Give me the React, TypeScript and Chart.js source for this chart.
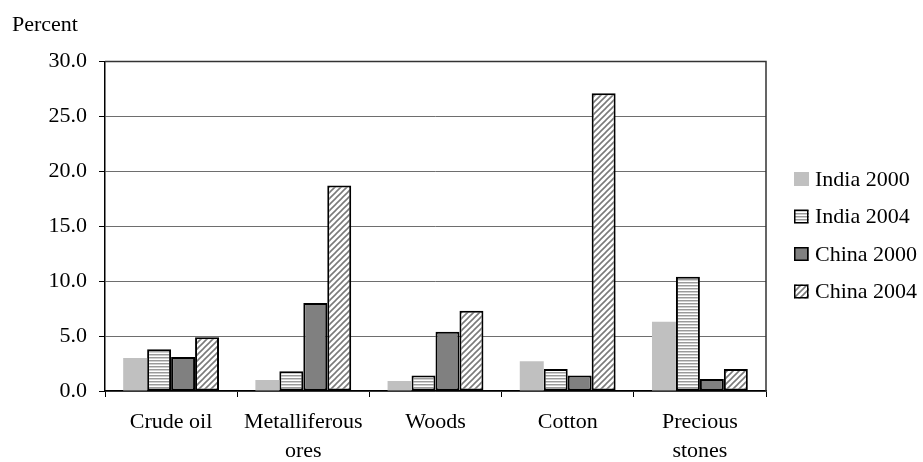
import React, { useEffect, useRef } from 'react';
import { Chart, registerables } from 'chart.js';

Chart.register(...registerables);

const categories: (string | string[])[] = ['Crude oil', ['Metalliferous', 'ores'], 'Woods', 'Cotton', ['Precious', 'stones']];
const seriesNames = ['India 2000', 'India 2004', 'China 2000', 'China 2004'];
const india2000 = [3.0, 1.0, 0.9, 2.7, 6.3];
const india2004 = [3.8, 1.8, 1.4, 2.0, 10.4];
const china2000 = [3.1, 8.0, 5.4, 1.4, 1.1];
const china2004 = [4.9, 18.7, 7.3, 27.1, 2.0];
const yMin = 0;
const yMax = 30;
const yStep = 5;
const yTitle = 'Percent';

const FONT = "'Liberation Serif', 'Times New Roman', serif";

function makeStripes(): CanvasPattern | string {
  const c = document.createElement('canvas');
  c.width = 4;
  c.height = 3;
  const x = c.getContext('2d');
  if (!x) return '#d0d0d0';
  x.fillStyle = '#ffffff';
  x.fillRect(0, 0, 4, 3);
  x.fillStyle = '#9a9a9a';
  x.fillRect(0, 0, 4, 1);
  x.fillStyle = '#d0d0d0';
  x.fillRect(0, 1, 4, 1);
  return x.createPattern(c, 'repeat') || '#d0d0d0';
}

function makeHatch(): CanvasPattern | string {
  const c = document.createElement('canvas');
  c.width = 6;
  c.height = 6;
  const x = c.getContext('2d');
  if (!x) return '#d0d0d0';
  x.fillStyle = '#ffffff';
  x.fillRect(0, 0, 6, 6);
  x.strokeStyle = '#7a7a7a';
  x.lineWidth = 1.6;
  x.beginPath();
  x.moveTo(0, 6);
  x.lineTo(6, 0);
  x.moveTo(-1, 1);
  x.lineTo(1, -1);
  x.moveTo(5, 7);
  x.lineTo(7, 5);
  x.stroke();
  return x.createPattern(c, 'repeat') || '#d0d0d0';
}

export default function App() {
  const ref = useRef<HTMLCanvasElement | null>(null);

  useEffect(() => {
    if (!ref.current) return;
    const stripes = makeStripes();
    const hatch = makeHatch();
    const fills: any[] = ['#c0c0c0', stripes, '#808080', hatch];
    const borders = [0, 2, 2, 2];
    const values = [india2000, india2004, china2000, china2004];

    const framePlugin = {
      id: 'frame',
      beforeDatasetsDraw(chart: any) {
        const { ctx, chartArea } = chart;
        ctx.save();
        ctx.strokeStyle = '#333333';
        ctx.lineWidth = 1.5;
        ctx.beginPath();
        ctx.moveTo(chartArea.left, chartArea.top);
        ctx.lineTo(chartArea.right, chartArea.top);
        ctx.lineTo(chartArea.right, chartArea.bottom);
        ctx.stroke();
        ctx.restore();
      },
    };

    const legendPlugin = {
      id: 'customLegend',
      afterDraw(chart: any) {
        const { ctx } = chart;
        const boxX = 794;
        const startY = 179;
        const gap = 37.5;
        ctx.save();
        ctx.font = `22px ${FONT}`;
        ctx.textBaseline = 'middle';
        ctx.textAlign = 'left';
        chart.data.datasets.forEach((ds: any, i: number) => {
          const cy = startY + i * gap;
          ctx.fillStyle = ds.backgroundColor;
          ctx.fillRect(boxX, cy - 7, 15, 14);
          if (ds.borderWidth > 0) {
            ctx.strokeStyle = '#000';
            ctx.lineWidth = 1.5;
            ctx.strokeRect(boxX + 0.75, cy - 6.25, 13, 12.5);
          }
          ctx.fillStyle = '#000';
          ctx.fillText(ds.label, 815, cy + 1);
        });
        ctx.restore();
      },
    };

    const chart = new Chart(ref.current, {
      type: 'bar',
      data: {
        labels: categories as any,
        datasets: seriesNames.map((name, i) => ({
          label: name,
          data: values[i],
          backgroundColor: fills[i],
          borderColor: '#000000',
          borderWidth: borders[i],
          borderSkipped: false,
          categoryPercentage: 0.725,
          barPercentage: 1.0,
        })),
      },
      options: {
        animation: false,
        responsive: false,
        layout: { padding: { left: 12, right: 157, top: 0, bottom: 0 } },
        plugins: {
          legend: { display: false },
          tooltip: { enabled: false },
          title: {
            display: true,
            text: yTitle,
            align: 'start',
            color: '#000',
            font: { family: FONT, size: 22, weight: 'normal' },
            padding: { top: 12, bottom: 23 },
          },
        },
        scales: {
          x: {
            grid: {
              offset: true,
              drawOnChartArea: false,
              drawTicks: true,
              tickLength: 6,
              tickColor: '#000',
            },
            border: { display: true, color: '#000', width: 1.5 },
            ticks: {
              color: '#000',
              font: { family: FONT, size: 22, lineHeight: 1.32 },
              padding: 11,
              maxRotation: 0,
              autoSkip: false,
            },
            afterFit(scale: any) {
              scale.height = 71;
            },
          },
          y: {
            min: yMin,
            max: yMax,
            grid: {
              color: '#6e6e6e',
              lineWidth: 1,
              tickLength: 6,
              tickColor: '#000',
            },
            border: { display: true, color: '#000', width: 1.5 },
            ticks: {
              stepSize: yStep,
              color: '#000',
              font: { family: FONT, size: 22 },
              padding: 12,
              callback: (v: any) => Number(v).toFixed(1),
            },
            afterFit(scale: any) {
              scale.width = 93;
            },
          },
        },
      },
      plugins: [framePlugin, legendPlugin],
    } as any);

    return () => chart.destroy();
  }, []);

  return (
    <div style={{ position: 'fixed', left: 0, top: 0, width: 923, height: 462, background: '#fff' }}>
      <canvas ref={ref} width={923} height={462} style={{ display: 'block' }} />
    </div>
  );
}
